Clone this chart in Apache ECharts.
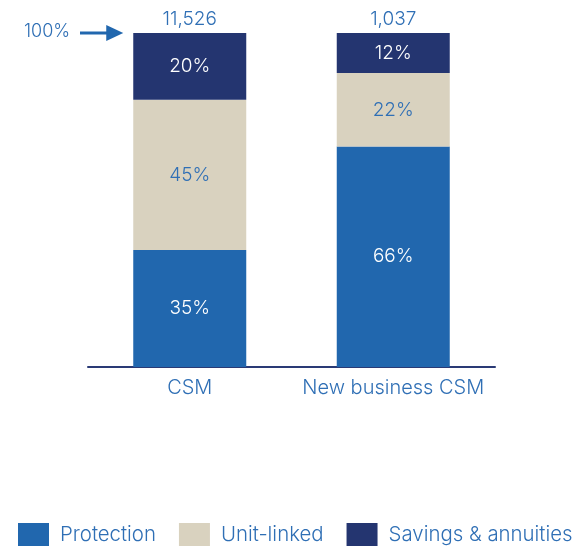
<!DOCTYPE html>
<html>
<head>
<meta charset="utf-8">
<script src="https://cdn.jsdelivr.net/npm/echarts@6/dist/echarts.min.js"></script>
<style>
  html, body { margin: 0; padding: 0; background: #ffffff; }
  #chart { width: 585px; height: 548px; }
</style>
</head>
<body>
<div id="chart"></div>
<script>
// CSM split by product type (% of total), with totals above each bar
const categories = ['CSM', 'New business CSM'];
const totals = ['11,526', '1,037'];
const protection = [35, 66];
const unitLinked = [45, 22];
const savings = [20, 12];
const seriesNames = ['Protection', 'Unit-linked', 'Savings & annuities'];

const COLORS = { protection: '#2167ae', unitLinked: '#d9d2bf', savings: '#243570' };
const TEXT_BLUE = '#2f6fb5';
const FONT = 'Inter, "Noto Sans", sans-serif';
const WEIGHT = 300;

const chart = echarts.init(document.getElementById('chart'));

function segLabel(color) {
  return {
    show: true,
    position: 'inside',
    color: color,
    fontSize: 19,
    fontWeight: WEIGHT,
    fontFamily: FONT,
    formatter: p => p.value + '%'
  };
}

const option = {
  animation: false,
  grid: { left: 88, right: 90, top: 33, bottom: 181 },
  legend: {
    left: 18,
    bottom: 2,
    padding: 0,
    itemWidth: 31,
    itemHeight: 23,
    itemGap: 23,
    icon: 'rect',
    textStyle: { color: TEXT_BLUE, fontSize: 20.4, fontWeight: WEIGHT, fontFamily: FONT, padding: [0, 0, 0, 6] },
    data: seriesNames
  },
  xAxis: {
    type: 'category',
    data: categories,
    axisLine: { lineStyle: { color: '#2a3a75', width: 2 } },
    axisTick: { show: false },
    axisLabel: { interval: 0, color: TEXT_BLUE, fontSize: 20, fontWeight: WEIGHT, fontFamily: FONT, margin: 11 }
  },
  yAxis: {
    type: 'value',
    min: 0,
    max: 100,
    show: false
  },
  series: [
    {
      name: seriesNames[0], type: 'bar', stack: 'total', barWidth: 113,
      data: protection, itemStyle: { color: COLORS.protection }, label: segLabel('#ffffff')
    },
    {
      name: seriesNames[1], type: 'bar', stack: 'total',
      data: unitLinked, itemStyle: { color: COLORS.unitLinked }, label: segLabel(TEXT_BLUE)
    },
    {
      name: seriesNames[2], type: 'bar', stack: 'total',
      data: savings, itemStyle: { color: COLORS.savings }, label: segLabel('#ffffff')
    },
    {
      // totals written above each stack
      name: 'total', type: 'bar', stack: 'total',
      data: categories.map(() => 0),
      itemStyle: { color: 'transparent' },
      label: {
        show: true, position: 'top', distance: 4,
        color: TEXT_BLUE, fontSize: 19, fontWeight: WEIGHT, fontFamily: FONT,
        formatter: p => totals[p.dataIndex]
      },
      tooltip: { show: false }
    }
  ]
};
chart.setOption(option);

// "100%" marker with an arrow pointing at the top of the first bar
const y100 = chart.convertToPixel({ yAxisIndex: 0 }, 100);
const barLeft = chart.convertToPixel({ xAxisIndex: 0 }, 0) - 113 / 2;
chart.setOption({
  graphic: [
    {
      type: 'text', left: 24, top: y100 - 10,
      style: { text: '100%', fill: TEXT_BLUE, fontSize: 18, fontWeight: WEIGHT, fontFamily: FONT }
    },
    {
      type: 'line',
      shape: { x1: 80, y1: y100, x2: barLeft - 24, y2: y100 },
      style: { stroke: '#2167ae', lineWidth: 3 }
    },
    {
      type: 'polygon',
      shape: { points: [[barLeft - 27, y100 - 8], [barLeft - 10, y100], [barLeft - 27, y100 + 8]] },
      style: { fill: '#2167ae' }
    }
  ]
});
</script>
</body>
</html>
